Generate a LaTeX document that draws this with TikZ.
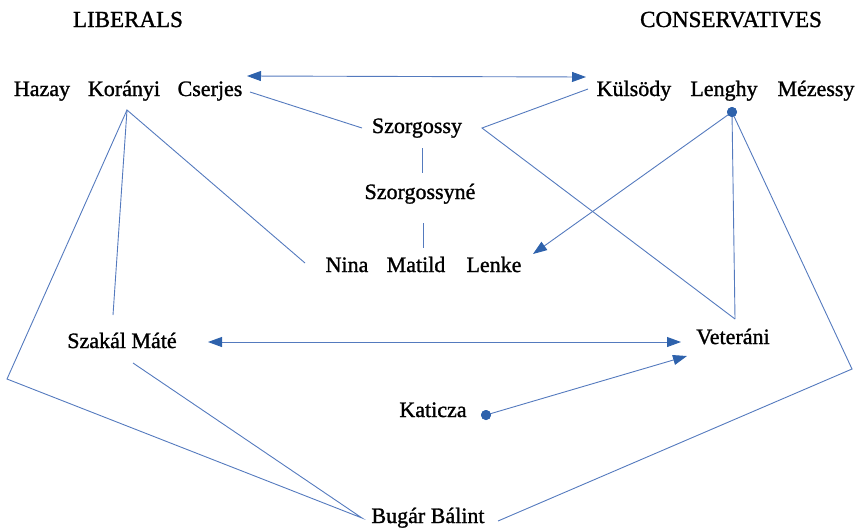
\documentclass[tikz,border=0pt]{standalone}
\usepackage{fontspec}
\setmainfont{Liberation Serif}
\newfontfamily\labelfont{Liberation Serif}[FakeBold=1.2]
\usetikzlibrary{arrows.meta}
\definecolor{linkblue}{RGB}{84,122,190}
\definecolor{headblue}{RGB}{46,98,172}
\tikzset{
  lbl/.style={anchor=base, inner sep=0pt, font=\labelfont\fontsize{22}{24}\selectfont},
  hdr/.style={anchor=base, inner sep=0pt, font=\labelfont\fontsize{23}{26}\selectfont},
  link/.style={draw=linkblue, line width=0.9pt},
  arr/.style={link, -{Triangle[length=14pt,width=10pt,fill=headblue,color=headblue]}},
  darr/.style={link, {Triangle[length=14pt,width=10pt,fill=headblue,color=headblue]}-{Triangle[length=14pt,width=10pt,fill=headblue,color=headblue]}},
  dot/.style={circle, fill=headblue, inner sep=0pt, minimum size=10pt}
}
\begin{document}
\begin{tikzpicture}[x=1pt,y=-1pt]
\useasboundingbox (0,0) rectangle (858,531);
% headers
\node[hdr] (lib) at (128,27) {LIBERALS};
\node[hdr] (con) at (731,27) {CONSERVATIVES};
% top row
\node[lbl] (hazay) at (42,96) {Hazay};
\node[lbl] (koranyi) at (124,96) {Korányi};
\node[lbl] (cserjes) at (210,96) {Cserjes};
\node[lbl] (kulsody) at (634,96) {Külsödy};
\node[lbl] (lenghy) at (724,96) {Lenghy};
\node[lbl] (mezessy) at (816,96) {Mézessy};
% middle
\node[lbl] (szorg) at (417,133) {Szorgossy};
\node[lbl] (szorgne) at (420,199) {Szorgossyné};
\node[lbl] (nina) at (347,272) {Nina};
\node[lbl] (matild) at (416,272) {Matild};
\node[lbl] (lenke) at (494,272) {Lenke};
\node[lbl] (szakal) at (122,348) {Szakál Máté};
\node[lbl] (veterani) at (733,344) {Veteráni};
\node[lbl] (katicza) at (433,417) {Katicza};
\node[lbl] (bugar) at (428,523) {Bugár Bálint};
% dots
\node[dot] (ldot) at (732,112) {};
\node[dot] (kdot) at (486,415) {};
% connector end points
\coordinate (cserR) at (247,76);
\coordinate (kulL) at (586,77);
\coordinate (cserB) at (250,92);
\coordinate (szL) at (362,128);
\coordinate (szR) at (482,128);
\coordinate (kulB) at (588,89);
\coordinate (vetT) at (735,319);
\coordinate (szB) at (422,148);
\coordinate (szneT) at (422,173);
\coordinate (szneB) at (423,223);
\coordinate (matT) at (423,248);
\coordinate (korB) at (127,110);
\coordinate (szakT) at (113,315);
\coordinate (ninaL) at (305,263);
\coordinate (leftC) at (7,379);
\coordinate (bugL) at (362,518);
\coordinate (szakB) at (133,363);
\coordinate (szakR) at (208,342);
\coordinate (vetL) at (681,342);
\coordinate (vetLB) at (687,356);
\coordinate (lenkeR) at (533,254);
\coordinate (rightC) at (852,369);
\coordinate (bugR) at (498,521);
% connectors
\draw[darr] (cserR) -- (kulL);
\draw[link] (cserB) -- (szL);
\draw[link] (kulB) -- (szR) -- (vetT);
\draw[link] (szB) -- (szneT);
\draw[link] (szneB) -- (matT);
\draw[link] (szakT) -- (korB) -- (ninaL);
\draw[link] (korB) -- (leftC) -- (bugL) -- (szakB);
\draw[darr] (szakR) -- (vetL);
\draw[arr] (kdot.center) -- (vetLB);
\draw[arr] (ldot.center) -- (lenkeR);
\draw[link] (ldot.center) -- (vetT);
\draw[link] (ldot.center) -- (rightC) -- (bugR);
\node[dot] at (ldot) {};
\node[dot] at (kdot) {};
\end{tikzpicture}
\end{document}
